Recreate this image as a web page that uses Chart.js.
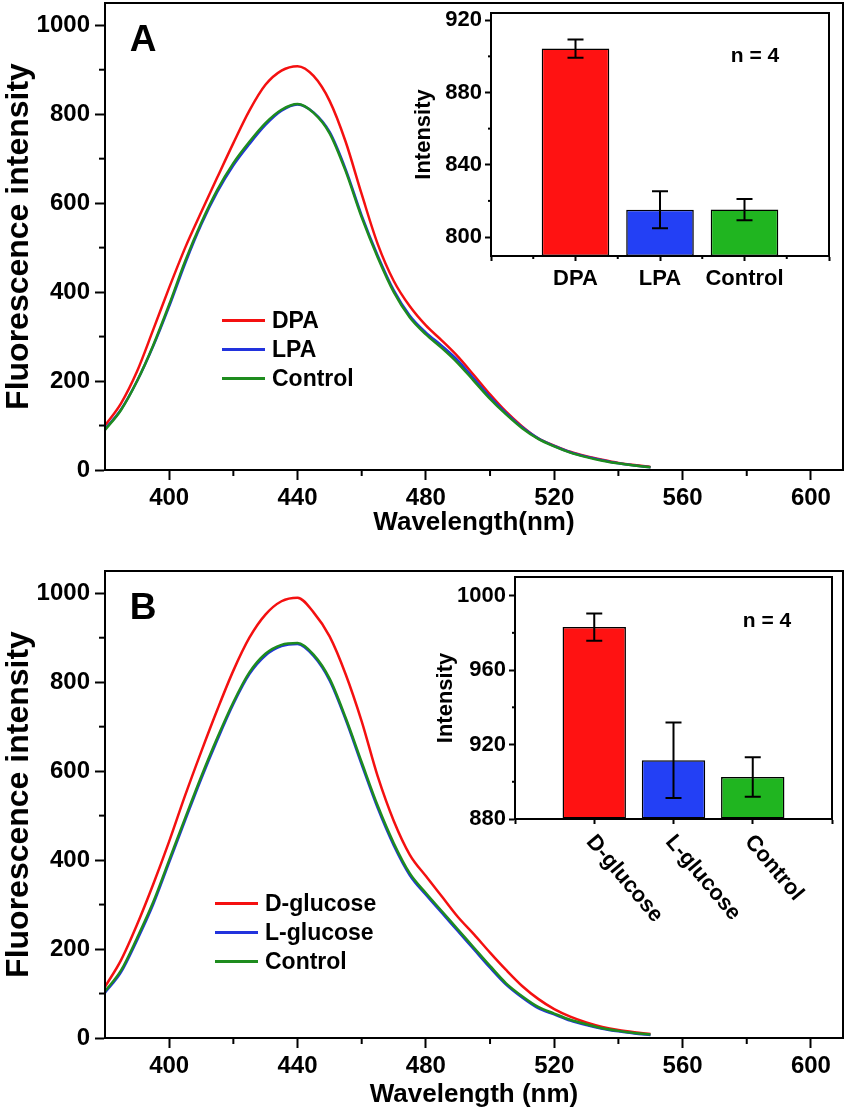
<!DOCTYPE html>
<html>
<head>
<meta charset="utf-8">
<script src="https://cdn.jsdelivr.net/npm/chart.js@4.4.1/dist/chart.umd.min.js"></script>
<style>
  body { margin: 0; background: #fff; }
  #wrap { position: relative; width: 846px; height: 1112px; overflow: hidden; }
  canvas { position: absolute; }
  .legend { position: absolute; font: bold 23px 'Liberation Sans', Arial, sans-serif; color: #000; }
  .legend .row { display: flex; align-items: center; height: 29px; }
  .legend .sw { display: inline-block; width: 43px; height: 3px; margin-right: 7px; }
</style>
</head>
<body>
<div id="wrap">
  <canvas id="mainA" width="846" height="560" style="left:0;top:0"></canvas>
  <canvas id="insetA" width="446" height="300" style="left:400px;top:0"></canvas>
  <canvas id="mainB" width="846" height="552" style="left:0;top:560px"></canvas>
  <canvas id="insetB" width="446" height="400" style="left:400px;top:560px"></canvas>
  <div class="legend" id="legA" style="left:222px;top:306px"></div>
  <div class="legend" id="legB" style="left:215px;top:889px"></div>
</div>
<script>
// emission spectra, every 5 nm
const wavelength = [380, 385, 390, 395, 400, 405, 410, 415, 420, 425, 430, 435, 440, 445, 450, 455, 460, 465, 470, 475, 480, 485, 490, 495, 500, 505, 510, 515, 520, 525, 530, 535, 540, 545, 550];
const dpa = [100, 150, 222, 315, 410, 500, 580, 658, 735, 808, 866, 898, 908, 886, 830, 738, 620, 508, 425, 368, 325, 291, 255, 213, 170, 131, 98, 71, 55, 41, 31, 23, 16, 11, 7];
const lpa = [92, 136, 200, 278, 368, 465, 552, 625, 685, 733, 776, 808, 822, 804, 760, 676, 572, 482, 404, 347, 309, 279, 246, 205, 164, 128, 96, 71, 54, 40, 30, 22, 15, 10, 6];
const controlA = [90, 135, 200, 280, 372, 470, 556, 630, 690, 738, 780, 810, 823, 803, 757, 672, 568, 478, 400, 343, 305, 274, 240, 200, 160, 125, 94, 70, 53, 39, 29, 21, 15, 10, 6];
const dGlucose = [115, 175, 255, 345, 442, 546, 644, 738, 826, 900, 952, 982, 990, 957, 903, 818, 712, 588, 488, 412, 364, 318, 272, 233, 192, 153, 117, 88, 65, 48, 35, 25, 18, 13, 9];
const lGlucose = [102, 148, 220, 300, 395, 490, 583, 670, 751, 818, 860, 881, 886, 859, 804, 716, 615, 517, 433, 366, 322, 281, 240, 199, 158, 120, 91, 67, 53, 39, 29, 21, 15, 10, 7];
const controlB = [105, 152, 225, 305, 400, 495, 588, 675, 755, 822, 864, 884, 888, 862, 808, 720, 620, 522, 438, 370, 326, 285, 244, 203, 162, 123, 94, 70, 55, 41, 31, 22, 16, 11, 8];

// inset bars (mean, error)
const barLabelsA = ['DPA', 'LPA', 'Control'];
const barMeansA = [904.3, 815.1, 815.2];
const barErrA = [5.0, 10.3, 5.9];
const barLabelsB = ['D-glucose', 'L-glucose', 'Control'];
const barMeansB = [983.1, 911.6, 902.6];
const barErrB = [7.3, 20.3, 10.6];

// tick values
const xTicksMain = [400, 440, 480, 520, 560, 600];
const xMinorMain = [420, 460, 500, 540, 580];
const yTicksMain = [0, 200, 400, 600, 800, 1000];
const yMinorMain = [100, 300, 500, 700, 900];
const yTicksInsetA = [800, 840, 880, 920];
const yMinorInsetA = [820, 860, 900];
const yTicksInsetB = [880, 920, 960, 1000];
const yMinorInsetB = [900, 940, 980];

const lineColors = ['#f41010', '#2233dd', '#1e8c1e'];
const barColors = ['#ff1212', '#2340f5', '#20b520'];

const FONT = "'Liberation Sans', Arial, sans-serif";
Chart.defaults.font.family = FONT;
Chart.defaults.font.weight = 'bold';
Chart.defaults.color = '#000';

// no extra room for half labels at the axis ends
function noPad(s) {
    s.paddingTop = 0; s.paddingBottom = 0;
    s.paddingLeft = 0; s.paddingRight = 0;
}

//--------- small plugins
const frame = {
    id: 'frame',
    afterDraw(chart, args, o) {
        const {left, top, right, bottom} = chart.chartArea;
        const c = chart.ctx;
        c.save();
        c.strokeStyle = '#000';
        c.lineWidth = o.width || 2;
        c.strokeRect(left, top, right - left, bottom - top);
        c.restore();
    }
};

const minorTicks = {
    id: 'minorTicks',
    afterDraw(chart, args, o) {
        const c = chart.ctx;
        c.save();
        c.strokeStyle = '#000';
        c.lineWidth = 2;
        (o.axes || []).forEach(a => {
            const s = chart.scales[a.id];
            a.values.forEach(v => {
                const p = s.getPixelForValue(v);
                c.beginPath();
                if (s.isHorizontal()) {
                    c.moveTo(p, s.top);
                    c.lineTo(p, s.top + a.len);
                } else {
                    c.moveTo(s.right, p);
                    c.lineTo(s.right - a.len, p);
                }
                c.stroke();
            });
        });
        c.restore();
    }
};

const notes = {
    id: 'notes',
    afterDraw(chart, args, o) {
        const c = chart.ctx;
        c.save();
        c.fillStyle = '#000';
        c.textAlign = 'center';
        c.textBaseline = 'middle';
        (o.items || []).forEach(n => {
            c.font = 'bold ' + n.size + 'px ' + FONT;
            c.fillText(n.text, n.x, n.y);
        });
        c.restore();
    }
};

const errorBars = {
    id: 'errorBars',
    afterDatasetsDraw(chart) {
        const c = chart.ctx;
        const ys = chart.scales.y;
        c.save();
        c.strokeStyle = '#000';
        c.lineWidth = 2;
        chart.data.datasets.forEach((ds, di) => {
            chart.getDatasetMeta(di).data.forEach((bar, i) => {
                const m = ds.data[i], e = ds.errors[i];
                if (m == null) return;
                const y1 = ys.getPixelForValue(m + e), y2 = ys.getPixelForValue(m - e);
                c.beginPath();
                c.moveTo(bar.x, y1); c.lineTo(bar.x, y2);
                c.moveTo(bar.x - 8, y1); c.lineTo(bar.x + 8, y1);
                c.moveTo(bar.x - 8, y2); c.lineTo(bar.x + 8, y2);
                c.stroke();
            });
        });
        c.restore();
    }
};

// slanted category labels (clockwise, reading downwards)
const slantLabels = {
    id: 'slantLabels',
    afterDraw(chart, args, o) {
        if (!o.enabled) return;
        const s = chart.scales.x;
        const c = chart.ctx;
        c.save();
        c.fillStyle = '#000';
        c.font = 'bold ' + o.size + 'px ' + FONT;
        c.textAlign = 'left';
        c.textBaseline = 'middle';
        chart.data.labels.forEach((lab, i) => {
            if (!lab) return;
            c.save();
            c.translate(s.getPixelForTick(i) + o.dx, s.top + o.dy);
            c.rotate(o.angle * Math.PI / 180);
            c.fillText(lab, 0, 0);
            c.restore();
        });
        c.restore();
    }
};

function htmlLegend(chart, el) {
    chart.data.datasets.forEach(ds => {
        const row = document.createElement('div');
        row.className = 'row';
        const sw = document.createElement('span');
        sw.className = 'sw';
        sw.style.background = ds.borderColor;
        row.appendChild(sw);
        row.appendChild(document.createTextNode(ds.label));
        el.appendChild(row);
    });
}

function mainChart(id, series, o) {
    const chart = new Chart(document.getElementById(id), {
        type: 'line',
        data: {
            datasets: series.map((s, k) => ({
                label: s.label,
                data: wavelength.map((w, i) => ({x: w, y: s.values[i]})),
                borderColor: lineColors[k],
                borderWidth: 2.5,
                pointRadius: 0,
                cubicInterpolationMode: 'monotone',
                order: 2 - k
            }))
        },
        options: {
            responsive: false,
            animation: false,
            devicePixelRatio: 1,
            layout: {padding: {top: o.top, right: 3, left: 0, bottom: 0}},
            plugins: {
                legend: {display: false},
                tooltip: {enabled: false},
                frame: {width: 2},
                minorTicks: {axes: [
                    {id: 'x', values: xMinorMain, len: 6},
                    {id: 'y', values: yMinorMain, len: 6}
                ]},
                notes: {items: [{text: o.letter, x: 143, y: o.top + 38, size: 37}]}
            },
            scales: {
                x: {
                    type: 'linear', min: 380, max: 610,
                    afterBuildTicks: s => { s.ticks = xTicksMain.map(v => ({value: v})); },
                    afterFit: s => { s.height = o.xh; noPad(s); },
                    grid: {drawOnChartArea: false, tickLength: 10, tickWidth: 2, tickColor: '#000'},
                    border: {color: '#000', width: 2},
                    ticks: {font: {size: 24, weight: 'bold'}, padding: 4, maxRotation: 0, autoSkip: false, callback: v => String(v)},
                    title: {display: true, text: o.xTitle, font: {size: 26, weight: 'bold', lineHeight: 1}, padding: {top: 0, bottom: o.titlePad}}
                },
                y: {
                    min: 0, max: 1050,
                    afterBuildTicks: s => { s.ticks = yTicksMain.map(v => ({value: v})); },
                    afterFit: s => { s.width = 105; noPad(s); },
                    grid: {drawOnChartArea: false, tickLength: 10, tickWidth: 2, tickColor: '#000'},
                    border: {color: '#000', width: 2},
                    ticks: {font: {size: 24, weight: 'bold'}, padding: 5, callback: v => String(v)},
                    title: {display: true, text: 'Fluorescence intensity', font: {size: 32, weight: 'bold', lineHeight: 1}, padding: {top: 3, bottom: 0}}
                }
            }
        },
        plugins: [frame, minorTicks, notes]
    });
    return chart;
}

function insetChart(id, labels, means, errs, o) {
    return new Chart(document.getElementById(id), {
        type: 'bar',
        data: {
            labels: ['', ...labels, ''],
            datasets: [{
                data: [null, ...means, null],
                errors: [null, ...errs, null],
                backgroundColor: ['#fff', ...barColors, '#fff'],
                borderColor: '#000',
                borderWidth: 1.5,
                borderSkipped: false,
                base: o.min,
                categoryPercentage: 0.8,
                barPercentage: 1
            }]
        },
        options: {
            responsive: false,
            animation: false,
            devicePixelRatio: 1,
            layout: {padding: {top: o.top, right: o.right, left: 0, bottom: 0}},
            plugins: {
                legend: {display: false},
                tooltip: {enabled: false},
                frame: {width: 2},
                minorTicks: {axes: o.minor},
                notes: {items: [{text: 'n = 4', x: o.nx, y: o.ny, size: 21}]},
                slantLabels: {enabled: o.slant, size: 22, angle: 50, dx: -4, dy: 19}
            },
            scales: {
                x: {
                    offset: false,
                    afterFit: s => { s.height = o.xh; noPad(s); },
                    grid: {offset: false, drawOnChartArea: false, tickLength: 5, tickWidth: 2, tickColor: '#000'},
                    border: {color: '#000', width: 2},
                    ticks: {display: !o.slant, font: {size: 22, weight: 'bold'}, padding: 5, maxRotation: 0, autoSkip: false}
                },
                y: {
                    min: o.min, max: o.max,
                    afterBuildTicks: s => { s.ticks = o.yTicks.map(v => ({value: v})); },
                    afterFit: s => { s.width = o.yw; noPad(s); },
                    grid: {drawOnChartArea: false, tickLength: 6, tickWidth: 2, tickColor: '#000'},
                    border: {color: '#000', width: 2},
                    ticks: {font: {size: 22, weight: 'bold'}, padding: 3, callback: v => String(v)},
                    title: {display: true, text: 'Intensity', font: {size: 22, weight: 'bold', lineHeight: 1}, padding: {top: o.titlePad, bottom: 0}}
                }
            }
        },
        plugins: [frame, minorTicks, notes, errorBars, slantLabels]
    });
}

//--------- panel A
const chartA = mainChart('mainA', [
    {label: 'DPA', values: dpa},
    {label: 'LPA', values: lpa},
    {label: 'Control', values: controlA}
], {top: 3, xh: 90, xTitle: 'Wavelength(nm)', titlePad: 24, letter: 'A'});
htmlLegend(chartA, document.getElementById('legA'));

insetChart('insetA', barLabelsA, barMeansA, barErrA, {
    min: 789.5, max: 924, yTicks: yTicksInsetA, top: 13, right: 17, yw: 91, xh: 44,
    titlePad: 13, nx: 355, ny: 56, slant: false,
    minor: [{id: 'y', values: yMinorInsetA, len: 3}, {id: 'x', values: [0.5, 1.5, 2.5, 3.5], len: 3}]
});

//--------- panel B
const chartB = mainChart('mainB', [
    {label: 'D-glucose', values: dGlucose},
    {label: 'L-glucose', values: lGlucose},
    {label: 'Control', values: controlB}
], {top: 11, xh: 74, xTitle: 'Wavelength (nm)', titlePad: 4, letter: 'B'});
htmlLegend(chartB, document.getElementById('legB'));

insetChart('insetB', barLabelsB, barMeansB, barErrB, {
    min: 880, max: 1010, yTicks: yTicksInsetB, top: 17, right: 14, yw: 115, xh: 141,
    titlePad: 35, nx: 367, ny: 61, slant: true,
    minor: [{id: 'y', values: yMinorInsetB, len: 3}]
});
</script>
</body>
</html>
